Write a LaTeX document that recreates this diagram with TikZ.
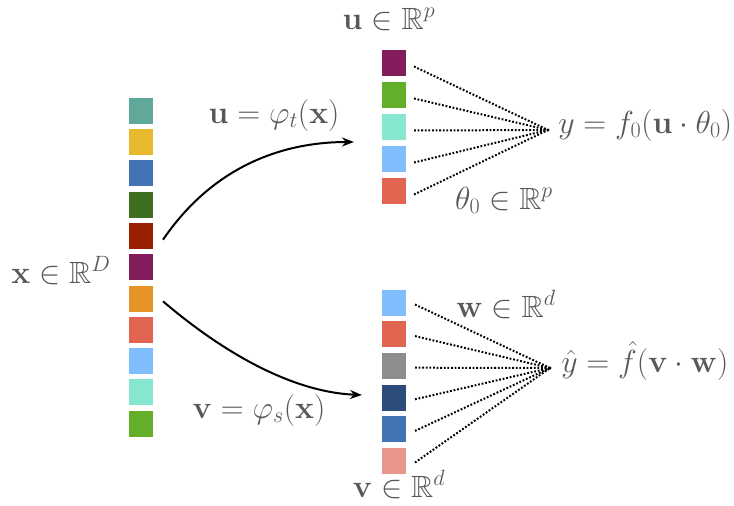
\documentclass[tikz,border=0pt]{standalone}
\usepackage{amsmath,amssymb}
\usetikzlibrary{arrows.meta}
\definecolor{cteal}{HTML}{5FA89A}
\definecolor{cyellow}{HTML}{E9B92D}
\definecolor{cblue}{HTML}{4274B5}
\definecolor{cdgreen}{HTML}{3F6E20}
\definecolor{cdred}{HTML}{9A1E00}
\definecolor{cpurple}{HTML}{821C5B}
\definecolor{corange}{HTML}{E69224}
\definecolor{ccoral}{HTML}{E26552}
\definecolor{clblue}{HTML}{7FBDFD}
\definecolor{caqua}{HTML}{86E6CF}
\definecolor{cgreen}{HTML}{64AF2A}
\definecolor{cgray}{HTML}{8E8E8E}
\definecolor{cnavy}{HTML}{2C4D7A}
\definecolor{cpink}{HTML}{E8958B}
\definecolor{txt}{HTML}{585858}
\tikzset{
  cell/.style={fill=#1, draw=white, line width=0.6pt, minimum width=25pt, minimum height=27pt, inner sep=0pt, outer sep=0pt},
  lbl/.style={text=txt, inner sep=0pt, anchor=base, font=\fontsize{24}{28}\selectfont, scale=1.28, transform shape},
  maparrow/.style={line width=2pt, -{Stealth[length=12pt,width=9pt]}},
  conn/.style={line width=2pt, dash pattern=on 1.8pt off 1.8pt},
}
\begin{document}
\begin{tikzpicture}[x=1pt,y=-1pt]
\useasboundingbox (0,0) rectangle (734,506);
% left column
\foreach \c [count=\i] in {cteal,cyellow,cblue,cdgreen,cdred,cpurple,corange,ccoral,clblue,caqua,cgreen}{
  \node[cell=\c] (l\i) at (140.5, {110.5+31.3*(\i-1)}) {};
}
% top column
\foreach \c [count=\i] in {cpurple,cgreen,caqua,clblue,ccoral}{
  \node[cell=\c] (t\i) at (393.5, {62.5+32*(\i-1)}) {};
}
% bottom column
\foreach \c [count=\i] in {clblue,ccoral,cgray,cnavy,cblue,cpink}{
  \node[cell=\c] (b\i) at (393.5, {302.5+31.6*(\i-1)}) {};
}
% convergence points
\coordinate (ytop) at (548,130);
\coordinate (ybot) at (550,368);
\foreach \i in {1,...,5}{
  \draw[conn] ([xshift=8pt,yshift=-4pt]t\i.east) -- (ytop);
}
\foreach \i in {1,...,6}{
  \draw[conn] ([xshift=9pt,yshift=-2pt]b\i.east) -- (ybot);
}
\fill (ytop) circle (1.6pt);
\fill (ybot) circle (1.6pt);
% arrows
\coordinate (atop) at (354,142);
\coordinate (abot) at (362,395);
\draw[maparrow] ([xshift=10pt,yshift=-4pt]l5.east) .. controls (212,168) and (280,142) .. (atop);
\draw[maparrow] ([xshift=10pt,yshift=-3pt]l7.east) .. controls (220,350) and (290,392) .. (abot);
% labels
\node[lbl] (xl) at (61,283) {$\mathbf{x}\in\mathbb{R}^D$};
\node[lbl] (ul) at (274,123) {$\mathbf{u}=\varphi_t(\mathbf{x})$};
\node[lbl] (vl) at (259,418) {$\mathbf{v}=\varphi_s(\mathbf{x})$};
\node[lbl] (up) at (389,29) {$\mathbf{u}\in\mathbb{R}^p$};
\node[lbl] (vd) at (399,497) {$\mathbf{v}\in\mathbb{R}^d$};
\node[lbl] (th) at (504,209) {$\theta_0\in\mathbb{R}^p$};
\node[lbl] (wd) at (506,317) {$\mathbf{w}\in\mathbb{R}^d$};
\node[lbl, anchor=base west] (yt) at (558,133) {$y=f_0(\mathbf{u}\cdot\theta_0)$};
\node[lbl, anchor=base west] (yb) at (561,372) {$\hat{y}=\hat{f}(\mathbf{v}\cdot\mathbf{w})$};
\end{tikzpicture}
\end{document}
